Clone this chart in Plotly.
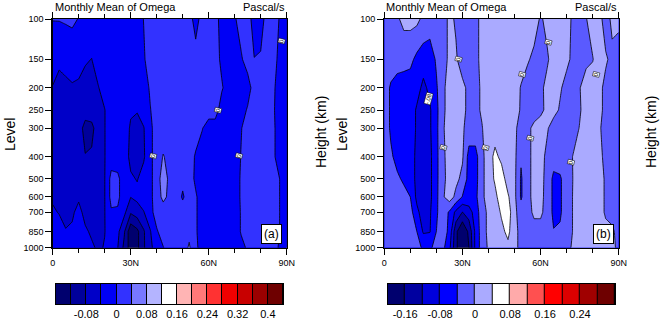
import numpy as np
import plotly.graph_objects as go

W, H = 660, 319

# ---------------- data ----------------
lats = [0, 2.5, 5, 7.5, 10, 12.5, 15, 17.5, 20, 22.5, 25, 27.5, 30, 32.5, 35, 37.5,
        40, 42.5, 45, 47.5, 50, 52.5, 55, 57.5, 60, 62.5, 65, 67.5, 70, 72.5, 75,
        77.5, 80, 82.5, 85, 87.5, 90]
levels = [100, 150, 200, 250, 300, 400, 500, 600, 700, 850, 1000]

# Panel (a) omega (Pa/s), one row per pressure level
omega_a = [
    [0.001, 0.002, 0.005, 0.009, -0.002, -0.02, -0.02, -0.02, -0.02, -0.02, -0.02, -0.02, -0.02, -0.02, 0.001,
     0.02, 0.02, 0.02, 0.02, 0.02, 0.02, 0.02, -0.02, 0.02, 0.02, 0.02, -0.02, -0.02, -0.005, 0.02,
     0.02, -0.02, -0.02, 0.02, 0.02, -0.005, -0.02],
    [-0.02, -0.034, -0.0325, -0.031, -0.029, -0.037, -0.0405, -0.022, -0.02, -0.02, -0.02, -0.02, -0.02, -0.02, -0.005,
     0.02, 0.02, 0.02, 0.02, 0.02, 0.02, 0.02, 0.02, 0.02, 0.02, 0.02, -0.01, -0.02, -0.02, -0.005,
     0.02, 0.001, 0.005, 0.02, 0.02, -0.02, -0.02],
    [-0.042, -0.05, -0.045, -0.042, -0.045, -0.05, -0.06, -0.042, -0.025, -0.02, -0.02, -0.02, -0.02, -0.02, -0.02,
     0.005, 0.02, 0.02, 0.02, 0.02, 0.02, 0.02, 0.02, 0.02, 0.02, 0.02, 0.005, -0.02, -0.02, -0.02,
     -0.02, 0.02, 0.02, 0.02, 0.005, -0.02, -0.02],
    [-0.06, -0.06, -0.06, -0.06, -0.06, -0.06, -0.06, -0.06, -0.041, -0.02, -0.02, -0.02, -0.035, -0.037, -0.02,
     -0.002, 0.02, 0.02, 0.02, 0.02, 0.02, 0.02, 0.02, 0.02, 0.02, 0.02, -0.02, -0.02, -0.02, -0.02,
     0.005, 0.02, 0.02, 0.02, 0.003, -0.02, -0.02],
    [-0.06, -0.06, -0.06, -0.06, -0.06, -0.095, -0.09, -0.06, -0.041, -0.02, -0.02, -0.02, -0.045, -0.055, -0.042,
     -0.01, 0.02, 0.02, 0.02, 0.02, 0.02, 0.02, 0.02, 0.002, -0.02, -0.02, -0.02, -0.02, -0.02, -0.002,
     0.02, 0.02, 0.02, 0.02, 0.005, -0.02, -0.02],
    [-0.06, -0.06, -0.06, -0.06, -0.06, -0.078, -0.075, -0.06, -0.041, -0.02, -0.02, -0.02, -0.05, -0.055, -0.045,
     -0.01, 0.02, 0.042, 0.03, 0.02, 0.02, 0.02, -0.005, -0.02, -0.02, -0.02, -0.02, -0.02, -0.02, 0.002,
     0.02, 0.02, 0.02, 0.02, 0.005, -0.02, -0.02],
    [-0.06, -0.06, -0.06, -0.06, -0.06, -0.06, -0.06, -0.06, -0.041, 0.012, 0.008, -0.02, -0.035, -0.042, -0.025,
     -0.01, 0.02, 0.06, 0.03, 0.02, 0.01, 0.02, -0.008, -0.02, -0.02, -0.02, -0.02, -0.02, -0.02, 0.005,
     0.02, 0.02, 0.02, 0.02, 0.02, -0.002, -0.02],
    [-0.045, -0.05, -0.05, -0.05, -0.045, -0.06, -0.06, -0.06, -0.041, 0.012, 0.008, -0.02, -0.039, -0.03, -0.02,
     -0.01, 0.02, 0.05, 0.03, 0.02, -0.005, 0.02, 0.005, -0.02, -0.02, -0.02, -0.02, -0.02, -0.02, 0.005,
     0.02, 0.02, 0.02, 0.02, 0.02, -0.002, -0.02],
    [-0.035, -0.042, -0.05, -0.045, -0.03, -0.05, -0.06, -0.06, -0.041, -0.005, -0.005, -0.03, -0.075, -0.06, -0.042,
     -0.015, 0.02, 0.02, 0.02, 0.02, 0.02, 0.02, 0.005, -0.02, -0.02, -0.02, -0.02, -0.02, -0.02, 0.003,
     0.02, 0.02, 0.02, 0.02, 0.02, -0.002, -0.02],
    [-0.02, -0.025, -0.038, -0.035, -0.03, -0.035, -0.045, -0.05, -0.041, -0.02, -0.03, -0.075, -0.15, -0.13, -0.085,
     -0.043, -0.005, 0.02, 0.02, 0.02, 0.02, 0.03, 0.005, -0.02, -0.02, -0.02, -0.02, -0.02, -0.02, 0.003,
     0.02, 0.02, 0.02, 0.02, 0.02, -0.002, -0.02],
    [-0.02, -0.02, -0.025, -0.025, -0.025, -0.03, -0.035, -0.045, -0.038, -0.02, -0.039, -0.09, -0.14, -0.13, -0.085,
     -0.05, -0.02, -0.002, 0.02, 0.02, 0.02, 0.045, 0.01, -0.02, -0.02, -0.02, -0.02, -0.02, -0.02, -0.01,
     0.005, 0.02, 0.02, 0.01, 0.01, -0.005, -0.02],
]

# Panel (b) omega (Pa/s)
omega_b = [
    [-0.02, -0.02, -0.005, 0.01, 0.012, 0.01, -0.01, -0.02, -0.02, -0.02, 0.01, -0.005, -0.02, -0.02, -0.01,
     0.01, 0.02, 0.02, 0.02, 0.02, 0.02, 0.02, 0.02, 0.02, -0.005, 0.01, 0.02, 0.02, 0.02, -0.01,
     -0.02, -0.002, 0.02, 0.015, -0.02, 0.01, 0.01],
    [-0.02, -0.02, -0.02, -0.025, -0.03, -0.05, -0.06, -0.06, -0.035, -0.02, 0.01, 0.005, -0.02, -0.02, -0.01,
     0.01, 0.02, 0.02, 0.02, 0.02, 0.02, 0.02, 0.005, -0.01, -0.015, -0.005, 0.015, 0.02, 0.01, -0.01,
     -0.02, -0.01, -0.002, 0.02, 0.005, -0.01, -0.02],
    [-0.02, -0.045, -0.06, -0.06, -0.06, -0.065, -0.09, -0.07, -0.045, -0.01, 0.02, 0.02, 0.01, -0.01, -0.01,
     0.005, 0.02, 0.02, 0.02, 0.02, 0.02, -0.003, -0.02, -0.02, -0.008, 0.01, 0.02, 0.005, -0.015, -0.02,
     -0.002, 0.02, 0.02, 0.01, -0.01, -0.02, -0.02],
    [-0.02, -0.045, -0.06, -0.06, -0.06, -0.085, -0.1, -0.085, -0.05, -0.01, 0.02, 0.02, 0.01, -0.01, -0.01,
     0.005, 0.02, 0.02, 0.02, 0.02, 0.02, -0.005, -0.02, -0.02, -0.01, 0.01, 0.015, -0.005, -0.02, -0.02,
     -0.005, 0.02, 0.02, 0.01, -0.01, -0.02, -0.02],
    [-0.02, -0.045, -0.06, -0.06, -0.06, -0.085, -0.1, -0.085, -0.05, -0.005, 0.02, 0.02, 0.005, -0.015, -0.015,
     -0.002, 0.02, 0.02, 0.02, 0.02, 0.01, -0.02, -0.01, 0.01, 0.02, 0.005, -0.02, -0.02, -0.02, -0.02,
     0.002, 0.02, 0.02, 0.005, -0.015, -0.02, -0.02],
    [-0.02, -0.035, -0.05, -0.06, -0.06, -0.09, -0.1, -0.09, -0.05, -0.01, 0.02, 0.02, 0.005, -0.055, -0.055,
     -0.01, 0.02, 0.05, 0.03, 0.02, 0.01, -0.035, -0.01, 0.01, 0.015, -0.01, -0.02, -0.02, -0.02, 0.002,
     0.02, 0.02, 0.02, 0.01, -0.01, -0.02, -0.02],
    [-0.02, -0.03, -0.035, -0.045, -0.06, -0.09, -0.1, -0.09, -0.05, -0.01, 0.015, 0.01, -0.01, -0.055, -0.055,
     -0.01, 0.02, 0.045, 0.06, 0.02, 0.01, -0.045, -0.01, 0.01, 0.01, -0.01, -0.05, -0.045, -0.02, 0.001,
     0.02, 0.02, 0.02, 0.015, -0.005, -0.02, -0.02],
    [-0.02, -0.025, -0.03, -0.03, -0.04, -0.09, -0.1, -0.09, -0.05, -0.005, 0.02, -0.01, -0.042, -0.05, -0.05,
     -0.01, 0.02, 0.03, 0.06, 0.045, 0.01, -0.045, -0.01, 0.01, 0.008, -0.01, -0.05, -0.045, -0.02, 0.002,
     0.02, 0.02, 0.02, 0.015, -0.005, -0.02, -0.02],
    [-0.02, -0.02, -0.025, -0.025, -0.025, -0.07, -0.1, -0.085, -0.045, -0.02, -0.045, -0.09, -0.121, -0.1, -0.06,
     -0.02, 0.01, 0.02, 0.045, 0.06, 0.01, -0.02, -0.01, 0.005, 0.005, -0.01, -0.05, -0.045, -0.02, 0.002,
     0.02, 0.02, 0.02, 0.015, -0.005, -0.01, -0.02],
    [-0.02, -0.02, -0.025, -0.025, -0.03, -0.04, -0.085, -0.082, -0.04, -0.02, -0.05, -0.15, -0.2, -0.15, -0.07,
     -0.02, 0.01, 0.02, 0.03, 0.05, 0.01, -0.01, -0.02, -0.01, -0.01, -0.015, -0.038, -0.035, -0.02, 0.002,
     0.02, 0.02, 0.02, 0.02, 0.01, 0.005, -0.01],
    [-0.02, -0.02, -0.02, -0.02, -0.02, -0.03, -0.045, -0.045, -0.03, -0.03, -0.07, -0.15, -0.2, -0.16, -0.07,
     -0.02, 0.005, 0.02, 0.02, 0.03, 0.01, -0.01, -0.02, -0.02, -0.02, -0.02, -0.02, -0.02, -0.01, 0.005,
     0.02, 0.02, 0.02, 0.02, 0.01, 0.01, -0.01],
]

colors_a = ["#00006e", "#00009b", "#0000c8", "#0000f5", "#3232ff", "#7878ff", "#b4b4ff", "#ffffff",
            "#ffb4b4", "#ff7878", "#ff3232", "#f00000", "#c80000", "#9b0000", "#6e0000"]
colors_b = ["#00006e", "#0000a0", "#0000dc", "#0000ff", "#5a5aff", "#aaaaff", "#ffffff",
            "#ffaaaa", "#ff5050", "#ff0000", "#dc0000", "#a00000", "#6e0000"]

cb_ticks_a = [-0.08, 0, 0.08, 0.16, 0.24, 0.32, 0.4]
cb_text_a = ["-0.08", "0", "0.08", "0.16", "0.24", "0.32", "0.4"]
cb_ticks_b = [-0.16, -0.08, 0, 0.08, 0.16, 0.24]
cb_text_b = ["-0.16", "-0.08", "0", "0.08", "0.16", "0.24"]

x_ticks = [0, 30, 60, 90]
x_text = ["0", "30N", "60N", "90N"]
height_km = ["4", "8", "12", "16"]
height_p = [616.6, 356.5, 194.0, 102.9]

# contour-line labels (lat, hPa, text)
labels_a = [(87.9, 125, "0"), (63.4, 250, "0"), (38.8, 397, "0"), (71.8, 397, "0")]
labels_b = [(28.4, 150, "0"), (52.8, 174, "0"), (63.2, 126, "0"), (81.2, 174, "0"),
            (56.0, 333, "0"), (22.7, 365, "0"), (38.9, 365, "0"), (71.7, 425, "0"),
            (16.9, 222, "-.08")]

# ---------------- figure ----------------
FONT = "Liberation Sans, Arial, Helvetica, sans-serif"
ylog = np.log10(levels)
CS = 0.04


def px(xp):
    return xp / W


def py(yp):
    return 1 - yp / H


panels = [
    dict(z=omega_a, colors=colors_a, start=-0.12, end=0.40, x0=52.7, x1=286.7,
         cb_ticks=cb_ticks_a, cb_text=cb_text_a, cb_x0=56, cb_x1=283, tag="(a)",
         labels=labels_a, lev_x=10, hgt_x=321),
    dict(z=omega_b, colors=colors_b, start=-0.16, end=0.28, x0=384.3, x1=618.7,
         cb_ticks=cb_ticks_b, cb_text=cb_text_b, cb_x0=387.7, cb_x1=615, tag="(b)",
         labels=labels_b, lev_x=342, hgt_x=651),
]

fig = go.Figure()
annotations = []
layout = {}
y_top, y_bot = 19.0, 247.7
tickfont = dict(size=9, color="black", family=FONT)

for i, p in enumerate(panels):
    n = i + 1
    xa = "x" if n == 1 else f"x{n}"
    ya = "y" if n == 1 else f"y{n}"
    nc = len(p["colors"]) - 1
    cscale = [[k / nc, c] for k, c in enumerate(p["colors"])]
    fig.add_trace(go.Contour(
        x=lats, y=ylog, z=p["z"], xaxis=xa, yaxis=ya,
        colorscale=cscale, showscale=False,
        contours=dict(start=p["start"], end=p["end"], size=CS, coloring="fill", showlines=True),
        line=dict(color="black", width=0.8, smoothing=0),
        hoverinfo="skip",
    ))
    # label bar: one box per contour band (band centres derived from the levels)
    centres = [p["start"] - CS / 2 + CS * k for k in range(nc + 1)]
    cxa, cya = f"x{n + 2}", f"y{n + 4}"
    fig.add_trace(go.Heatmap(
        x=centres, y=[0], z=[centres], xaxis=cxa, yaxis=cya,
        colorscale=cscale, zmin=centres[0], zmax=centres[-1], showscale=False,
        xgap=1, hoverinfo="skip",
    ))
    xkey = "xaxis" if n == 1 else f"xaxis{n}"
    ykey = "yaxis" if n == 1 else f"yaxis{n}"
    rkey = f"yaxis{n + 2}"
    layout[xkey] = dict(domain=[px(p["x0"]), px(p["x1"])], anchor=ya, range=[0, 90],
                        tickmode="array", tickvals=x_ticks, ticktext=x_text,
                        ticks="outside", ticklen=6, tickwidth=1, tickcolor="black",
                        minor=dict(dtick=10, tick0=0, ticks="outside", ticklen=4, tickcolor="black"),
                        showline=True, linecolor="black", linewidth=1.3, mirror="ticks",
                        showgrid=False, zeroline=False, automargin=False, tickfont=tickfont)
    layout[ykey] = dict(domain=[py(y_bot), py(y_top)], anchor=xa, range=[3, 2],
                        tickmode="array", tickvals=list(ylog), ticktext=[str(v) for v in levels],
                        ticks="outside", ticklen=6, tickwidth=1, tickcolor="black",
                        showline=True, linecolor="black", linewidth=1.3, mirror=True,
                        showgrid=False, zeroline=False, automargin=False, tickfont=tickfont)
    layout[rkey] = dict(overlaying=ya, anchor=xa, side="right", range=[3, 2],
                        tickmode="array", tickvals=list(np.log10(height_p)), ticktext=height_km,
                        ticks="outside", ticklen=6, tickwidth=1, tickcolor="black",
                        showline=False, showgrid=False, zeroline=False, automargin=False,
                        tickfont=tickfont)
    layout[f"xaxis{n + 2}"] = dict(domain=[px(p["cb_x0"]), px(p["cb_x1"])], anchor=cya,
                                   range=[p["start"] - CS, p["end"] + CS],
                                   tickmode="array", tickvals=p["cb_ticks"], ticktext=p["cb_text"],
                                   ticks="", showline=True, linecolor="black", linewidth=1, mirror=True,
                                   showgrid=False, zeroline=False, automargin=False,
                                   tickfont=dict(size=11, color="black", family=FONT))
    layout[f"yaxis{n + 4}"] = dict(domain=[py(304), py(284)], anchor=cxa, range=[-0.5, 0.5],
                                   showticklabels=False, ticks="",
                                   showline=True, linecolor="black", linewidth=1, mirror=True,
                                   showgrid=False, zeroline=False, automargin=False)
    # titles
    annotations += [
        dict(text="Monthly Mean of Omega", x=px(p["x0"]), y=py(7), xref="paper", yref="paper",
             xanchor="left", yanchor="middle", showarrow=False,
             font=dict(size=11, color="black", family=FONT)),
        dict(text="Pascal/s", x=px(p["x1"]), y=py(7), xref="paper", yref="paper",
             xanchor="right", yanchor="middle", showarrow=False,
             font=dict(size=11, color="black", family=FONT)),
        dict(text="Level", x=px(p["lev_x"]), y=py(135), xref="paper", yref="paper",
             xanchor="center", yanchor="middle", showarrow=False, textangle=-90,
             font=dict(size=14, color="black", family=FONT)),
        dict(text="Height (km)", x=px(p["hgt_x"]), y=py(132), xref="paper", yref="paper",
             xanchor="center", yanchor="middle", showarrow=False, textangle=-90,
             font=dict(size=14, color="black", family=FONT)),
        dict(text=p["tag"], x=px(p["x1"] - 15), y=py(234), xref="paper", yref="paper",
             xanchor="center", yanchor="middle", showarrow=False,
             bgcolor="white", bordercolor="black", borderwidth=1, borderpad=2,
             font=dict(size=12, color="black", family=FONT)),
    ]
    for (la, pr, t) in p["labels"]:
        annotations.append(dict(text=t, x=la, y=float(np.log10(pr)), xref=xa, yref=ya,
                                showarrow=False, textangle=-75, bgcolor="white",
                                bordercolor="black", borderwidth=0.5, borderpad=0,
                                font=dict(size=6, color="black", family=FONT)))

fig.update_layout(width=W, height=H, margin=dict(l=0, r=0, t=0, b=0),
                  paper_bgcolor="white", plot_bgcolor="black", showlegend=False,
                  font=dict(family=FONT, color="black"),
                  annotations=annotations, **layout)

fig.write_html("out.html", config={"displayModeBar": False, "staticPlot": True},
               post_script="document.body.style.margin='0';")
